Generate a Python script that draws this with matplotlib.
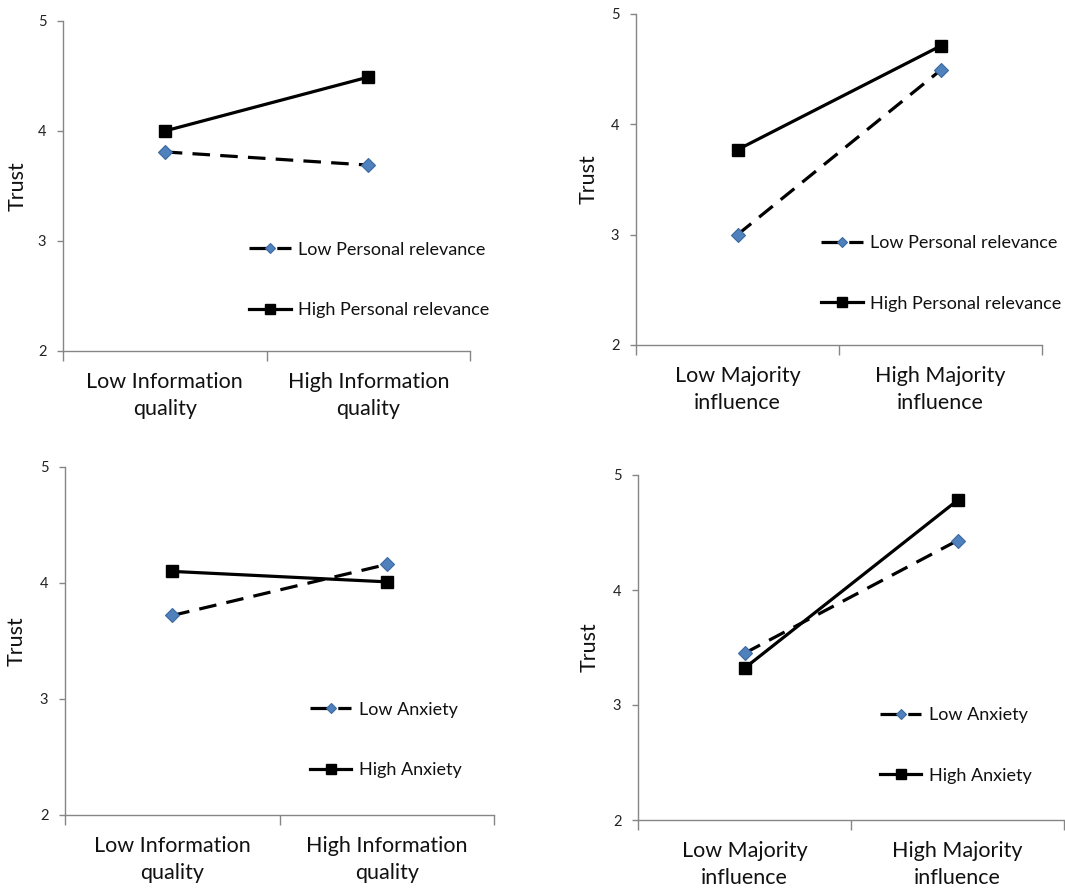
import numpy as np
import matplotlib
matplotlib.use("Agg")
import matplotlib.pyplot as plt

plt.rcParams['font.family'] = ['Lato', 'DejaVu Sans']

# data
x_labels_info = ['Low Information\nquality', 'High Information\nquality']
x_labels_major = ['Low Majority\ninfluence', 'High Majority\ninfluence']

legend_pr = ['Low Personal relevance', 'High Personal relevance']
legend_anx = ['Low Anxiety', 'High Anxiety']

p1_low = [3.81, 3.69]
p1_high = [4.00, 4.49]
p2_low = [3.00, 4.49]
p2_high = [3.77, 4.71]
p3_low = [3.72, 4.16]
p3_high = [4.10, 4.01]
p4_low = [3.45, 4.43]
p4_high = [3.32, 4.78]

yticks = [2, 3, 4, 5]

W, H = 1065, 892
fig = plt.figure(figsize=(W / 100, H / 100), dpi=100)

# axes boxes in pixels: left, right, top, bottom
boxes = [(63, 470, 21, 351), (636, 1042, 14, 345),
         (65, 494, 467, 815), (638, 1064, 475, 820)]
legend_x = [0.457, 0.456, 0.571, 0.568]
label_x = [-0.086, -0.091, -0.089, -0.089]

panels = [
    (p1_low, p1_high, x_labels_info, legend_pr),
    (p2_low, p2_high, x_labels_major, legend_pr),
    (p3_low, p3_high, x_labels_info, legend_anx),
    (p4_low, p4_high, x_labels_major, legend_anx),
]

grey = '#868686'
blue = '#4F81BD'

for i, (low, high, xl, leg) in enumerate(panels):
    l, r, t, b = boxes[i]
    ax = fig.add_axes([l / W, (H - b) / H, (r - l) / W, (b - t) / H])
    xs = np.arange(len(low)) + 0.5

    ax.plot(xs, low, color='black', lw=2.3, linestyle=(0, (5.5, 3.2)),
            marker='D', ms=6.8, mfc=blue, mec='#3b6aa0', mew=0.8,
            label=leg[0])
    ax.plot(xs, high, color='black', lw=2.3, linestyle='-',
            marker='s', ms=9, mfc='black', mec='black',
            label=leg[1])

    ax.set_xlim(0, 2)
    ax.set_ylim(2, 5)
    ax.set_yticks(yticks)
    ax.tick_params(axis='y', direction='out', length=4, width=1,
                   color=grey, labelsize=10.5, pad=8, labelcolor='#222222')

    ax.set_xticks([0, 1, 2])
    ax.set_xticklabels([])
    ax.set_xticks(xs, minor=True)
    ax.set_xticklabels(xl, minor=True, fontsize=15.5, color='#111111',
                       linespacing=1.45)
    ax.tick_params(axis='x', which='major', direction='out', length=7,
                   width=1, color=grey)
    ax.tick_params(axis='x', which='minor', length=0, pad=15)

    for s in ['top', 'right']:
        ax.spines[s].set_visible(False)
    for s in ['left', 'bottom']:
        ax.spines[s].set_color(grey)
        ax.spines[s].set_linewidth(1)

    ax.set_ylabel('Trust', fontsize=15.5, color='#111111')
    ax.yaxis.set_label_coords(label_x[i], 0.5)

    ax.legend(loc='center left', bbox_to_anchor=(legend_x[i], 0.216),
              frameon=False, fontsize=13, handlelength=2.3,
              handletextpad=0.4, labelspacing=2.45, borderpad=0,
              borderaxespad=0, markerscale=0.8, labelcolor='#111111')

fig.savefig('out.png', dpi=100, facecolor='white')
